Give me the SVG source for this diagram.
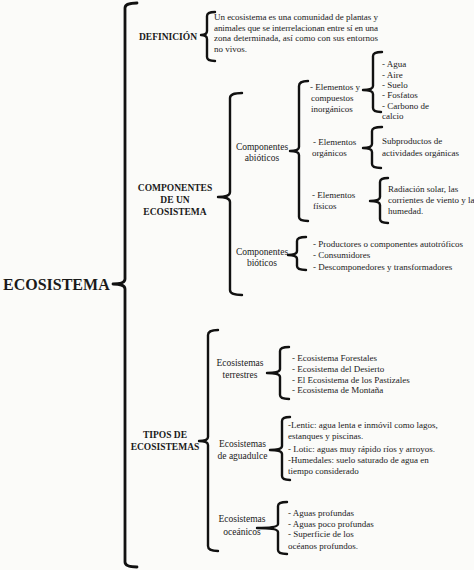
<svg xmlns="http://www.w3.org/2000/svg" width="474" height="570" viewBox="0 0 474 570">
<style>
.bg{fill:#fbfbf9}
.br{fill:none;stroke:#111;stroke-width:2.4;stroke-linecap:round;stroke-linejoin:round}
.brm{stroke-width:2.8}
text{font-family:"Liberation Serif","Times New Roman",serif;fill:#1a1a1a}
.t{font-size:9px}
.m{font-size:9.5px;text-anchor:middle}
.h{font-size:9.5px;font-weight:bold;text-anchor:middle}
.root{font-size:16px;font-weight:bold}
</style>
<rect class="bg" x="0" y="0" width="474" height="570"/>
<g id="connectors">
<!-- main bracket -->
<path class="br brm" d="M137,3 Q125,3 125,8 L125,279 Q125,284 113,284 Q125,284 125,289 L125,562 Q125,567 137,567"/>
<!-- definicion -->
<path class="br" d="M215,12 Q207,12 207,16 L207,31 Q207,35 201,35 Q207,35 207,39 L207,57 Q207,61 215,61"/>
<!-- componentes -->
<path class="br" d="M242,93 Q230,93 230,98 L230,192 Q230,197 218,197 Q230,197 230,202 L230,290 Q230,295 242,295"/>
<!-- abioticos -->
<path class="br" d="M308,81 Q299,81 299,86 L299,147 Q299,151 290,151 Q299,151 299,155 L299,217 Q299,221 308,221"/>
<!-- bioticos -->
<path class="br" d="M306,237 Q297,237 297,241 L297,251 Q297,255 288,255 Q297,255 297,259 L297,266 Q297,270 306,270"/>
<!-- inorganicos -->
<path class="br" d="M382,52 Q373,52 373,56 L373,86 Q373,90 363,90 Q373,90 373,94 L373,108 Q373,112 381,112"/>
<!-- organicos -->
<path class="br" d="M382,127 Q372,127 372,131 L372,144 Q372,148 363,148 Q372,148 372,152 L372,164 Q372,168 381,168"/>
<!-- fisicos -->
<path class="br" d="M388,178 Q380,178 380,182 L380,197 Q380,201 370,201 Q380,201 380,205 L380,219 Q380,223 388,223"/>
<!-- tipos -->
<path class="br" d="M218,330 Q208,330 208,335 L208,437 Q208,441 199,441 Q208,441 208,445 L208,546 Q208,551 218,551"/>
<!-- terrestres -->
<path class="br" d="M289,347 Q280,347 280,351 L280,369 Q280,373 267,373 Q280,373 280,377 L280,395 Q280,399 289,399"/>
<!-- aguadulce -->
<path class="br" d="M290,417 Q282,417 282,421 L282,446 Q282,450 270,450 Q282,450 282,454 L282,476 Q282,480 290,480"/>
<!-- oceanicos -->
<path class="br" d="M287,502 Q278,502 278,506 L278,524 Q278,528 257,528 Q278,528 278,532 L278,550 Q278,554 287,554"/>
</g>
<g id="ecosistema"><text class="root" x="3" y="290">ECOSISTEMA</text></g>
<g id="definicion"><text class="h" x="168" y="40">DEFINICIÓN</text></g>
<g id="definicion-texto">
<text class="t" x="214" y="20" textLength="164">Un ecosistema es una comunidad de plantas y</text>
<text class="t" x="214" y="30.5" textLength="164">animales que se interrelacionan entre sí en una</text>
<text class="t" x="214" y="41" textLength="164">zona determinada, así como con sus entornos</text>
<text class="t" x="214" y="51.5">no vivos.</text>
</g>
<g id="componentes">
<text class="h" x="175" y="191">COMPONENTES</text>
<text class="h" x="175" y="203">DE UN</text>
<text class="h" x="175" y="215">ECOSISTEMA</text>
</g>
<g id="abioticos">
<text class="m" x="262" y="150">Componentes</text>
<text class="m" x="262" y="161">abióticos</text>
</g>
<g id="bioticos">
<text class="m" x="262" y="255">Componentes</text>
<text class="m" x="262" y="266">bióticos</text>
</g>
<g id="inorganicos">
<text class="t" x="310" y="90">- Elementos y</text>
<text class="t" x="311" y="101">compuestos</text>
<text class="t" x="311" y="111.5">inorgánicos</text>
</g>
<g id="inorganicos-lista">
<text class="t" x="382" y="66.5">- Agua</text>
<text class="t" x="382" y="77.5">- Aire</text>
<text class="t" x="382" y="88">- Suelo</text>
<text class="t" x="382" y="98">- Fosfatos</text>
<text class="t" x="382" y="108.5">- Carbono de</text>
<text class="t" x="382" y="119">calcio</text>
</g>
<g id="organicos">
<text class="t" x="313" y="145">- Elementos</text>
<text class="t" x="312" y="156">orgánicos</text>
</g>
<g id="organicos-lista">
<text class="t" x="382" y="144">Subproductos de</text>
<text class="t" x="382" y="156">actividades orgánicas</text>
</g>
<g id="fisicos">
<text class="t" x="312" y="198">- Elementos</text>
<text class="t" x="313" y="209">físicos</text>
</g>
<g id="fisicos-lista">
<text class="t" x="388" y="192">Radiación solar, las</text>
<text class="t" x="388" y="203">corrientes de viento y la</text>
<text class="t" x="388" y="214">humedad.</text>
</g>
<g id="bioticos-lista">
<text class="t" x="313" y="247">- Productores o componentes autotróficos</text>
<text class="t" x="313" y="258">- Consumidores</text>
<text class="t" x="313" y="270">- Descomponedores y transformadores</text>
</g>
<g id="tipos">
<text class="h" x="165" y="438">TIPOS DE</text>
<text class="h" x="165" y="450">ECOSISTEMAS</text>
</g>
<g id="terrestres">
<text class="m" x="240" y="366">Ecosistemas</text>
<text class="m" x="240" y="378">terrestres</text>
</g>
<g id="terrestres-lista">
<text class="t" x="292" y="361">- Ecosistema Forestales</text>
<text class="t" x="292" y="372">- Ecosistema del Desierto</text>
<text class="t" x="292" y="382.5">- El Ecosistema de los Pastizales</text>
<text class="t" x="292" y="393">- Ecosistema de Montaña</text>
</g>
<g id="aguadulce">
<text class="m" x="242.5" y="447">Ecosistemas</text>
<text class="m" x="242.5" y="459">de aguadulce</text>
</g>
<g id="aguadulce-lista">
<text class="t" x="288" y="428">-Lentic: agua lenta e inmóvil como lagos,</text>
<text class="t" x="288" y="439">estanques y piscinas.</text>
<text class="t" x="288" y="452">- Lotic: aguas muy rápido ríos y arroyos.</text>
<text class="t" x="288" y="463">-Humedales: suelo saturado de agua en</text>
<text class="t" x="288" y="474">tiempo considerado</text>
</g>
<g id="oceanicos">
<text class="m" x="242" y="522">Ecosistemas</text>
<text class="m" x="242" y="535">oceánicos</text>
</g>
<g id="oceanicos-lista">
<text class="t" x="288" y="516">- Aguas profundas</text>
<text class="t" x="288" y="526.5">- Aguas poco profundas</text>
<text class="t" x="288" y="537">- Superficie de los</text>
<text class="t" x="288" y="549">océanos  profundos.</text>
</g>
</svg>
